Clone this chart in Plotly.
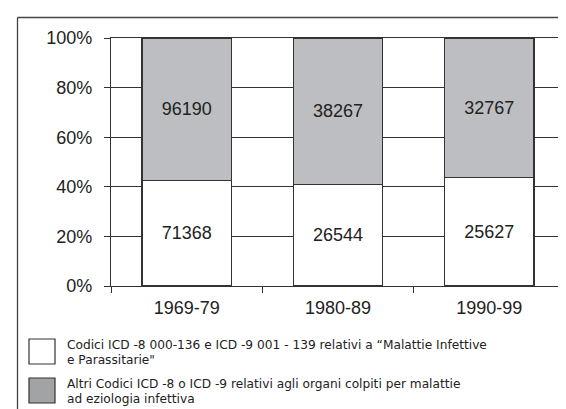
import plotly.graph_objects as go

categories = ["1969-79", "1980-89", "1990-99"]
infettive = [71368, 26544, 25627]
altri = [96190, 38267, 32767]
series_names = [
    "Codici ICD -8 000-136 e ICD -9 001 - 139 relativi a \u201cMalattie Infettive\ne Parassitarie\"",
    "Altri Codici ICD -8 o ICD -9 relativi agli organi colpiti per malattie\nad eziologia infettiva",
]
y_ticks = [0, 0.2, 0.4, 0.6, 0.8, 1.0]

totals = [a + b for a, b in zip(infettive, altri)]
share_inf = [a / t for a, t in zip(infettive, totals)]
share_alt = [b / t for b, t in zip(altri, totals)]

W, H = 566, 409
L, R, T, B = 103, 9, 30, 131
pw, ph = W - L - R, H - T - B

def px(x):
    return (x - L) / pw

def py(y):
    return (H - B - y) / ph

line_col = "#333333"
gray_bar = "#bdbec1"
gray_leg = "#a2a3a5"
font_main = "Liberation Sans, Arial, sans-serif"
font_leg = "DejaVu Sans, Liberation Sans, sans-serif"

fig = go.Figure()
fig.add_trace(go.Bar(
    x=categories, y=share_inf, text=[str(v) for v in infettive],
    name=series_names[0].replace("\n", " "),
    marker=dict(color="white", line=dict(color=line_col, width=1.3)),
    textposition="inside", insidetextanchor="middle",
    textfont=dict(size=18, color="#222", family=font_main),
    showlegend=False,
))
fig.add_trace(go.Bar(
    x=categories, y=share_alt, text=[str(v) for v in altri],
    name=series_names[1].replace("\n", " "),
    marker=dict(color=gray_bar, line=dict(color=line_col, width=1.3)),
    textposition="inside", insidetextanchor="middle",
    textfont=dict(size=18, color="#222", family=font_main),
    showlegend=False,
))

shapes = [
    # outer frame (top and left)
    dict(type="line", xref="paper", yref="paper", x0=px(9.5), x1=px(566), y0=py(9.5), y1=py(9.5),
         line=dict(color="#444", width=1.3)),
    dict(type="line", xref="paper", yref="paper", x0=px(9.5), x1=px(9.5), y0=py(9.5), y1=py(409),
         line=dict(color="#444", width=1.3)),
]
annotations = []
leg_fills = ["white", gray_leg]
leg_tops = [331, 370]
for name, fill, top in zip(series_names, leg_fills, leg_tops):
    shapes.append(dict(type="rect", xref="paper", yref="paper",
                       x0=px(21), x1=px(47), y0=py(top), y1=py(top + 25),
                       fillcolor=fill, line=dict(color=line_col, width=1.2)))
    for i, line in enumerate(name.split("\n")):
        annotations.append(dict(
            xref="paper", yref="paper", x=px(58), y=py(top + 6 + 14.6 * i),
            xanchor="left", yanchor="middle", text=line, showarrow=False,
            borderpad=0, valign="middle",
            font=dict(size=12.2, color="#222", family=font_leg)))

fig.update_layout(
    width=W, height=H,
    margin=dict(l=L, r=R, t=T, b=B),
    barmode="stack", bargap=0.41,
    plot_bgcolor="white", paper_bgcolor="white",
    shapes=shapes, annotations=annotations,
    showlegend=False,
    font=dict(family=font_main, color="#222"),
)
fig.update_xaxes(
    type="category", tickson="boundaries", ticks="outside", ticklen=6,
    tickcolor=line_col, showgrid=False, showline=True, linecolor=line_col,
    linewidth=1.2, mirror=True, tickfont=dict(size=18, color="#222"),
    ticklabelstandoff=5,
)
fig.update_yaxes(
    range=[0, 1], tickvals=y_ticks, tickformat=".0%", ticks="outside", ticklen=6,
    tickcolor=line_col, showgrid=True, gridcolor=line_col, gridwidth=1,
    showline=True, linecolor=line_col, linewidth=1.2, mirror=True,
    zeroline=False, tickfont=dict(size=18, color="#222"), ticklabelstandoff=8,
)

fig.write_html("out.html")
